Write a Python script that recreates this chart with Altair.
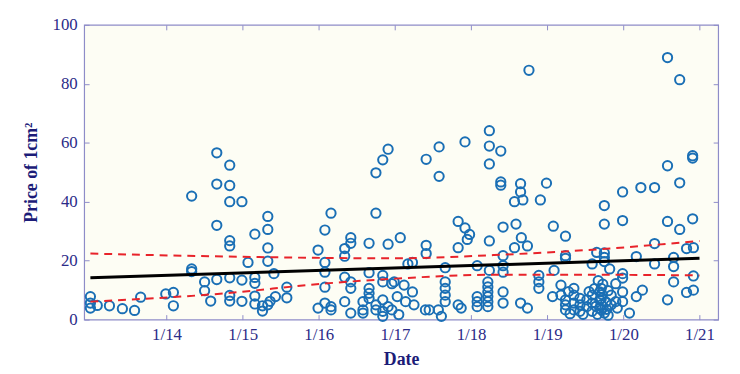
import altair as alt
import pandas as pd

# ---- scatter data (decimal year, price) ----
years_a = [2013.00, 2013.00, 2013.00, 2013.09, 2013.25, 2013.42, 2013.58, 2013.66, 2013.99, 2014.09, 2014.09]
price_a = [7.8, 5.6, 3.9, 4.8, 4.7, 3.7, 3.1, 7.6, 8.7, 9.2, 4.7]

years_b = [2014.33, 2014.33, 2014.33, 2014.50, 2014.50, 2014.58,
           2014.66, 2014.66, 2014.66, 2014.66,
           2014.83, 2014.83, 2014.83, 2014.83, 2014.83, 2014.83, 2014.83, 2014.83,
           2014.99, 2014.99, 2014.99, 2015.07,
           2015.16, 2015.16, 2015.16, 2015.16, 2015.16,
           2015.26, 2015.26, 2015.33, 2015.33, 2015.33, 2015.33, 2015.33,
           2015.36, 2015.41, 2015.43, 2015.58, 2015.58]
price_b = [41.9, 17.2, 16.3, 12.8, 9.8, 6.3,
           56.6, 46.0, 32.0, 13.6,
           52.4, 45.5, 40.0, 26.8, 25.0, 14.2, 8.2, 6.3,
           40.0, 13.4, 6.2, 19.4,
           29.0, 14.3, 12.3, 8.0, 5.3,
           2.9, 4.7, 35.0, 30.6, 24.3, 19.8, 5.0,
           6.2, 15.6, 7.8, 11.0, 7.4]

years_c = [2015.99, 2015.99, 2016.08, 2016.08, 2016.08, 2016.08, 2016.08,
           2016.16, 2016.16, 2016.16, 2016.34, 2016.34, 2016.34, 2016.34,
           2016.42, 2016.42, 2016.42, 2016.42, 2016.42,
           2016.58, 2016.58, 2016.58, 2016.66, 2016.66, 2016.66, 2016.66, 2016.66,
           2016.75, 2016.75, 2016.75, 2016.75,
           2016.84, 2016.84, 2016.84, 2016.84, 2016.84, 2016.84,
           2016.91, 2016.91, 2016.91, 2016.96, 2016.96]
price_c = [23.6, 3.9, 30.4, 19.4, 16.1, 11.0, 5.6,
           36.1, 4.4, 3.3, 24.1, 21.5, 14.4, 6.1,
           27.8, 25.9, 12.8, 10.6, 2.2,
           6.1, 3.3, 2.2, 25.9, 15.9, 10.6, 8.9, 7.2,
           49.8, 36.1, 5.0, 3.3,
           54.2, 15.0, 12.8, 6.7, 2.8, 1.1,
           57.8, 25.6, 4.4, 12.2, 3.3]

years_d = [2016.99, 2017.03, 2017.05, 2017.07, 2017.12, 2017.14, 2017.17, 2017.23, 2017.23, 2017.25,
           2017.40, 2017.41, 2017.41, 2017.41, 2017.45,
           2017.57, 2017.58, 2017.58, 2017.61,
           2017.66, 2017.66, 2017.66, 2017.66, 2017.66,
           2017.83, 2017.83, 2017.83, 2017.87,
           2017.92, 2017.92, 2017.95, 2017.98,
           2018.08, 2018.08, 2018.08, 2018.08,
           2018.22, 2018.22, 2018.22, 2018.22, 2018.22, 2018.22,
           2018.24, 2018.24, 2018.24, 2018.24, 2018.24]
price_d = [12.8, 7.8, 1.7, 27.8, 11.7, 6.1, 18.9, 19.4, 9.4, 5.0,
           3.3, 54.4, 25.2, 22.4, 3.3,
           3.3, 58.6, 48.6, 1.1,
           17.6, 12.8, 10.6, 8.3, 6.1,
           33.3, 24.4, 5.0, 3.9,
           60.3, 31.1, 27.2, 28.9,
           18.3, 7.8, 6.1, 4.4,
           12.8, 11.1, 9.4, 7.8, 6.1, 4.4,
           64.1, 58.9, 52.8, 26.7, 16.7]

years_e = [2018.39, 2018.39, 2018.39,
           2018.42, 2018.42, 2018.42, 2018.42, 2018.42, 2018.42,
           2018.57, 2018.57, 2018.59,
           2018.65, 2018.65, 2018.65, 2018.66, 2018.68,
           2018.74, 2018.74, 2018.76,
           2018.89, 2018.89, 2018.89, 2018.91, 2018.99,
           2019.07, 2019.08, 2019.09, 2019.18, 2019.18,
           2019.24, 2019.24, 2019.24, 2019.24, 2019.24, 2019.24,
           2019.28, 2019.30,
           2019.35, 2019.35, 2019.35, 2019.35,
           2019.43, 2019.43, 2019.43, 2019.47,
           2019.52, 2019.52, 2019.55,
           2019.59, 2019.59, 2019.59, 2019.59,
           2019.62, 2019.64, 2019.65, 2019.66, 2019.67,
           2019.69, 2019.69, 2019.69]
price_e = [57.2, 46.7, 45.6,
           31.4, 21.7, 18.3, 16.1, 9.4, 5.6,
           40.0, 24.4, 32.4,
           46.1, 43.3, 5.6, 27.8, 40.6,
           25.0, 3.9, 84.6,
           15.0, 12.8, 10.6, 40.6, 46.3,
           7.8, 31.7, 16.7, 11.7, 8.3,
           28.3, 21.7, 20.8, 6.7, 5.0, 3.3,
           9.5, 2.0,
           10.6, 8.3, 5.6, 3.3,
           7.2, 5.0, 2.8, 1.8,
           6.7, 4.4, 9.5,
           18.9, 8.3, 5.6, 2.8,
           10.5, 4.5, 22.8, 1.8, 13.2,
           9.4, 6.7, 3.9]

years_f = [2019.71, 2019.71, 2019.71, 2019.71, 2019.72, 2019.73,
           2019.75, 2019.75, 2019.75, 2019.75, 2019.75, 2019.75,
           2019.77, 2019.78, 2019.80, 2019.80,
           2019.82, 2019.84, 2019.84, 2019.90, 2019.90, 2019.92,
           2019.99, 2019.99, 2019.99, 2019.99, 2019.99, 2019.99,
           2020.08, 2020.17, 2020.17, 2020.23, 2020.25,
           2020.41, 2020.41, 2020.41,
           2020.58, 2020.58, 2020.58, 2020.58,
           2020.66, 2020.66, 2020.66,
           2020.74, 2020.74, 2020.74,
           2020.83, 2020.83,
           2020.91, 2020.91, 2020.91, 2020.92, 2020.92, 2020.92]
price_f = [10.6, 7.2, 5.0, 3.3, 8.5, 12.0,
           2.2, 38.7, 32.4, 22.6, 21.1, 19.7,
           6.0, 3.5, 9.8, 1.5,
           17.2, 8.3, 5.0, 12.2, 6.1, 3.9,
           43.3, 33.6, 15.6, 14.1, 9.4, 6.1,
           2.2, 21.4, 7.8, 44.8, 10.0,
           44.8, 25.8, 18.9,
           88.9, 52.2, 33.3, 6.7,
           21.1, 18.0, 12.8,
           81.4, 46.4, 30.6,
           24.1, 9.2,
           55.6, 54.8, 34.2, 24.4, 14.8, 10.0]

# ---- fitted line and dashed band ----
fit_years = [2013.0, 2021.0]
fit_values = [14.2, 20.8]
upper_years = [2013.0, 2015.0, 2017.0, 2018.3, 2019.7, 2021.0]
upper_values = [22.4, 21.3, 20.8, 21.9, 23.9, 26.7]
lower_years = [2013.0, 2014.76, 2016.06, 2017.0, 2018.3, 2019.7, 2021.0]
lower_values = [6.1, 8.9, 12.2, 13.9, 15.2, 15.2, 15.0]

# tick labels
x_ticks = [2014, 2015, 2016, 2017, 2018, 2019, 2020, 2021]
y_ticks = [0, 20, 40, 60, 80, 100]

years = years_a + years_b + years_c + years_d + years_e + years_f
prices = price_a + price_b + price_c + price_d + price_e + price_f
pts_df = pd.DataFrame({"year": years, "price": prices})
fit_df = pd.DataFrame({"year": fit_years, "price": fit_values})
band_df = pd.concat([
    pd.DataFrame({"year": upper_years, "price": upper_values, "band": "upper"}),
    pd.DataFrame({"year": lower_years, "price": lower_values, "band": "lower"}),
])

W, H = 641, 298
LABEL = "#2b2b88"
FRAME = "#8e8cc8"
FONT = "Liberation Serif"

xscale = alt.Scale(domain=[2012.918, 2021.245], nice=False, zero=False)
yscale = alt.Scale(domain=[0, 100], nice=False)

points = alt.Chart(pts_df).mark_point(
    shape="circle", filled=False, size=88, strokeWidth=2, color="#1a6fb5", opacity=1
).encode(
    x=alt.X("year:Q", scale=xscale,
            axis=alt.Axis(orient="bottom", values=x_ticks,
                          labelExpr="'1/' + (datum.value - 2000)",
                          ticks=False, domain=False, grid=False,
                          labelPadding=7, title="Date", titlePadding=8)),
    y=alt.Y("price:Q", scale=yscale,
            axis=alt.Axis(orient="left", values=y_ticks, ticks=False, domain=False,
                          grid=False, labelPadding=7, title="Price of 1cm²",
                          titlePadding=12)),
)

fit = alt.Chart(fit_df).mark_line(color="black", strokeWidth=3).encode(
    x=alt.X("year:Q", scale=xscale,
            axis=alt.Axis(orient="top", offset=-H, values=x_ticks, labels=False,
                          ticks=True, tickSize=5, tickColor=FRAME, domain=False,
                          grid=False, title=None)),
    y=alt.Y("price:Q", scale=yscale,
            axis=alt.Axis(orient="right", offset=-W, values=y_ticks, labels=False,
                          ticks=True, tickSize=5, tickColor=FRAME, domain=False,
                          grid=False, title=None)),
)

band = alt.Chart(band_df).mark_line(
    color="#e8232a", strokeWidth=2, strokeDash=[8, 6], interpolate="monotone"
).encode(
    x=alt.X("year:Q", scale=xscale,
            axis=alt.Axis(orient="bottom", offset=-H, values=x_ticks, labels=False,
                          ticks=True, tickSize=5, tickColor=FRAME, domain=False,
                          grid=False, title=None)),
    y=alt.Y("price:Q", scale=yscale,
            axis=alt.Axis(orient="left", offset=-W, values=y_ticks, labels=False,
                          ticks=True, tickSize=5, tickColor=FRAME, domain=False,
                          grid=False, title=None)),
    detail="band:N",
)

chart = alt.layer(points, fit, band).resolve_axis(
    x="independent", y="independent"
).properties(
    width=W, height=H,
    autosize=alt.AutoSizeParams(type="none"),
    padding={"left": 77, "top": 15, "right": 14, "bottom": 58},
    background="white",
).configure_view(
    stroke=FRAME, strokeWidth=1.2, fill="#fdfdf4"
).configure_axis(
    labelFont=FONT, labelFontSize=17, labelColor=LABEL,
    titleFont=FONT, titleFontSize=18, titleColor="#1c1c78", titleFontWeight="bold",
)

chart.save("out.html", embed_options={"renderer": "svg", "actions": False})
